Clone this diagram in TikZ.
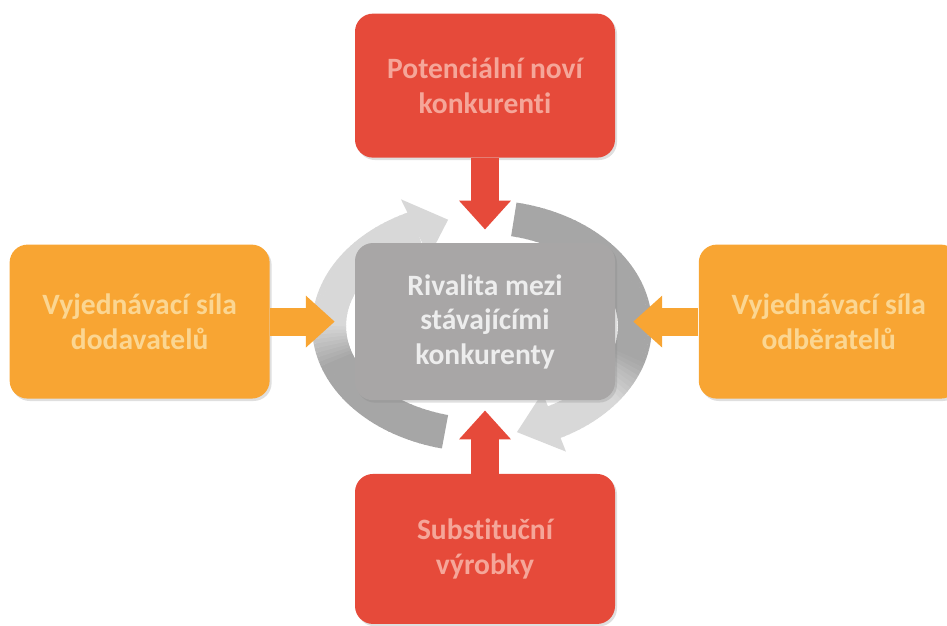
\documentclass[tikz,border=0pt]{standalone}
\usepackage{fontspec}
\setmainfont{Carlito}[Ligatures=NoCommon]
\usetikzlibrary{arrows.meta,positioning,calc,backgrounds,shadows}
\definecolor{fred}{HTML}{E64A3A}
\definecolor{fredt}{HTML}{F5A699}
\definecolor{forg}{HTML}{F8A533}
\definecolor{forgt}{HTML}{FBD692}
\definecolor{fgray}{HTML}{A8A6A6}
\definecolor{fgrayt}{HTML}{EDEDED}
\definecolor{ringD}{HTML}{A6A6A6}
\definecolor{ringL}{HTML}{D8D8D8}
\tikzset{
  frc/.style={rectangle,rounded corners=0.45cm,minimum width=6.5cm,minimum height=3.85cm,align=center,font=\fontsize{21}{24.5}\selectfont\bfseries,drop shadow={opacity=0.25,shadow xshift=0.05cm,shadow yshift=-0.06cm}},
  rf/.style={frc,fill=fred,text=fredt},
  orf/.style={frc,fill=forg,text=forgt},
  cf/.style={frc,fill=fgray,text=fgrayt,minimum height=3.93cm},
  farr/.style={line width=0.7cm,-{Triangle[width=1.25cm,length=0.72cm]}},
  ringseg/.style={line width=0.85cm},
}

\begin{document}
\begin{tikzpicture}
  \useasboundingbox (0,0) rectangle (23.675,-15.65);
  \node[cf] (rival) at (12.125,-8.04) {Rivalita mezi\\stávajícími\\konkurenty};
  \node[rf,above=2.12cm of rival,minimum height=3.6cm] (entr) {Potenciální noví\\konkurenti};
  \node[rf,below=1.83cm of rival,minimum height=3.75cm] (subst) {Substituční\\výrobky};
  \node[orf,left=2.12cm of rival] (suppl) {Vyjednávací síla\\dodavatelů};
  \node[orf,right=2.08cm of rival] (buyr) {Vyjednávací síla\\odběratelů};
  \draw[farr,fred,shorten >=0.33cm] (entr) -- (rival);
  \draw[farr,fred,shorten >=0.25cm] (subst) -- (rival);
  \draw[farr,forg,shorten >=0.5cm] (suppl) -- (rival);
  \draw[farr,forg,shorten >=0.45cm] (buyr) -- (rival);
  % circular arrows behind the middle box
  \begin{scope}[on background layer]
    \coordinate (ringc) at ($(rival.center)+(-0.075,-0.11)$);
    \foreach \t [evaluate=\t as \p using {min(100,max(0,(\t+35)/20*100))}] in {78,76,...,-60}
      \draw[ringseg,draw=ringD!\p!ringL] ($(ringc)+(\t:3.825 and 2.725)$) arc[start angle=\t,end angle=\t-2.5,x radius=3.825,y radius=2.725];
    \fill[ringL] ($(ringc)+(-63:4.625 and 3.525)$) -- ($(ringc)+(-76.8:3.825 and 2.725)$) -- ($(ringc)+(-60:3.025 and 1.925)$) -- cycle;
    \foreach \t [evaluate=\t as \p using {min(100,max(0,(\t-180)/20*100))}] in {256,254,...,118}
      \draw[ringseg,draw=ringD!\p!ringL] ($(ringc)+(\t:3.825 and 2.725)$) arc[start angle=\t,end angle=\t-2.5,x radius=3.825,y radius=2.725];
    \fill[ringL] ($(ringc)+(116:4.625 and 3.525)$) -- ($(ringc)+(102.8:3.825 and 2.725)$) -- ($(ringc)+(116:3.025 and 1.925)$) -- cycle;
  \end{scope}
\end{tikzpicture}
\end{document}
